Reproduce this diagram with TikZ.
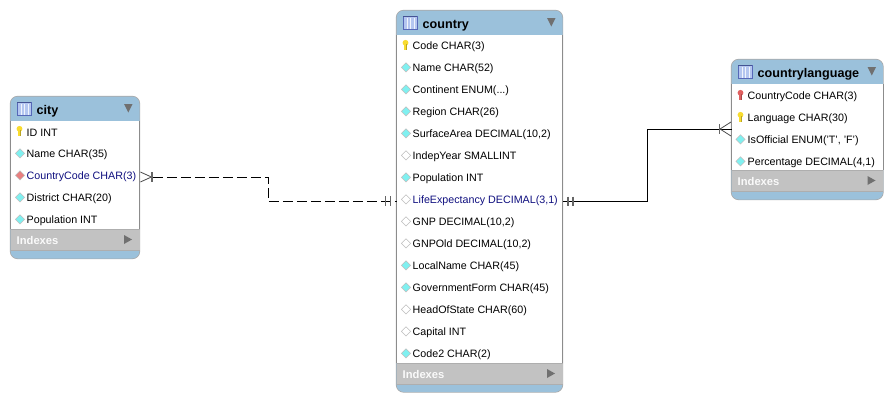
\documentclass[tikz,border=0pt]{standalone}
\usepackage{fontspec}
\setmainfont{Liberation Sans}
\usetikzlibrary{calc}
\definecolor{hdr}{HTML}{9BC1DB}
\definecolor{band}{HTML}{C2C2C2}
\definecolor{edge}{HTML}{8C8C8C}
\definecolor{tri}{HTML}{707070}
\definecolor{cy}{HTML}{80F0F0}
\definecolor{fkr}{HTML}{E88080}
\definecolor{keyy}{HTML}{F8DC30}
\definecolor{keyr}{HTML}{E06060}
\definecolor{ink}{HTML}{000000}
\definecolor{hil}{HTML}{101080}
\definecolor{iconf}{HTML}{B4C6F0}
\definecolor{iconb}{HTML}{5668B8}
\tikzset{
  tablebody/.style={fill=white,inner sep=0pt},
  rowtext/.style={anchor=west,inner sep=0pt,font=\fontsize{10.7}{12}\selectfont,text=ink},
  hitext/.style={rowtext,text=hil},
  titletext/.style={anchor=west,inner sep=0pt,font=\fontsize{12.6}{13}\selectfont\bfseries,text=black},
  indextext/.style={anchor=west,inner sep=0pt,font=\fontsize{11.2}{12}\selectfont\bfseries,text=white!92!band},
  relsolid/.style={draw=black,line width=0.9pt},
  reldash/.style={draw=black,line width=0.9pt,dash pattern=on 10pt off 4pt},
  crow/.style={draw=black!70,line width=0.8pt},
  crowbar/.style={draw=black!60,line width=1.6pt},
}
% #1 left, #2 right, #3 top, #4 header bottom, #5 band top, #6 band bottom, #7 bottom, #8 title, #9 name
\newcommand{\ertable}[9]{%
  \fill[edge!75,rounded corners=8pt] (#1-0.7,#3-0.7) rectangle (#2+0.7,#7+0.7);
  \fill[hdr,rounded corners=7.5pt] (#1,#3) rectangle (#2,#7);
  \node[tablebody,minimum width=#2pt-#1pt,minimum height=#5pt-#4pt,anchor=north west] (#9) at (#1,#4) {};
  \draw[edge,line width=1pt] (#1,#4) -- (#1,#5) (#2,#4) -- (#2,#5);
  \fill[band] (#1,#5) rectangle (#2,#6);
  \draw[edge!70,line width=.8pt] (#1,#5) -- (#2,#5) (#1,#6) -- (#2,#6);
  % table icon
  \fill[iconf] (#1+6.5,#3+5.5) rectangle (#1+20.5,#3+18.5);
  \foreach \gx in {10.5,14,17.5}{\draw[white!80!iconf,line width=.8pt] (#1+\gx,#3+7) -- (#1+\gx,#3+18);}
  \draw[iconb,line width=1pt] (#1+6.5,#3+5.5) rectangle (#1+20.5,#3+18.5);
  \draw[iconb!80!black,line width=1.4pt] (#1+6.5,#3+6) -- (#1+20.5,#3+6);
  \node[titletext] (#9title) at (#1+26,#3+15) {#8};
  \fill[tri] (#2-15.5,#3+7.5) -- (#2-7,#3+7.5) -- (#2-11.2,#3+16) -- cycle;
  \node[indextext] (#9idx) at (#1+6,{(#5+#6)/2+.5}) {Indexes};
  \fill[tri] (#2-15.5,{(#5+#6)/2-4.5}) -- (#2-7.5,{(#5+#6)/2}) -- (#2-15.5,{(#5+#6)/2+4.5}) -- cycle;
}
% #1 x of icon centre, #2 y, #3 fill
\newcommand{\pdiamond}[3]{%
  \fill[gray!50] (#1,#2-4.6) -- (#1+5,#2+.4) -- (#1,#2+5.4) -- (#1-5,#2+.4) -- cycle;
  \fill[#3] (#1,#2-3.6) -- (#1+3.9,#2+.4) -- (#1,#2+4.3) -- (#1-3.9,#2+.4) -- cycle;
}
\newcommand{\pkey}[3]{%
  \fill[#3] (#1,#2-2.2) circle[radius=2.9];
  \fill[#3] (#1-1.2,#2-2) rectangle (#1+1,#2+4.6);
  \draw[#3!75!black,line width=.4pt] (#1+1.1,#2-1) -- (#1+1.1,#2+4.6);
}
\begin{document}
\begin{tikzpicture}[x=1pt,y=-1pt]
\useasboundingbox (0,0) rectangle (892,402);
\fill[white] (0,0) rectangle (892,402);
% ---- city
\ertable{10.5}{139.5}{96.5}{120.5}{229}{250}{258.5}{city}{city}
\pkey{19.5}{131}{keyy}
\node[rowtext] (cityA) at (26.5,133) {ID INT};
\pdiamond{20}{153}{cy}
\node[rowtext] (cityB) at (26.5,155) {Name CHAR(35)};
\pdiamond{20}{175}{fkr}
\node[hitext] (cityC) at (26.5,177) {CountryCode CHAR(3)};
\pdiamond{20}{197}{cy}
\node[rowtext] (cityD) at (26.5,199) {District CHAR(20)};
\pdiamond{20}{219}{cy}
\node[rowtext] (cityE) at (26.5,221) {Population INT};
% ---- country
\ertable{396.5}{562.5}{10.5}{35}{363}{384}{392}{country}{country}
\pkey{405.5}{45}{keyy}
\node[rowtext] (c1) at (412.5,47) {Code CHAR(3)};
\foreach \yy/\nm/\tx/\col in {
  67/c2/{Name CHAR(52)}/cy,
  89/c3/{Continent ENUM(...)}/cy,
  111/c4/{Region CHAR(26)}/cy,
  133/c5/{SurfaceArea DECIMAL(10,2)}/cy,
  155/c6/{IndepYear SMALLINT}/white,
  177/c7/{Population INT}/cy,
  221/c9/{GNP DECIMAL(10,2)}/white,
  243/c10/{GNPOld DECIMAL(10,2)}/white,
  265/c11/{LocalName CHAR(45)}/cy,
  287/c12/{GovernmentForm CHAR(45)}/cy,
  309/c13/{HeadOfState CHAR(60)}/white,
  331/c14/{Capital INT}/white,
  353/c15/{Code2 CHAR(2)}/cy}{
  \pdiamond{406}{\yy}{\col}
  \node[rowtext] (\nm) at (412.5,\yy+2) {\tx};
}
\pdiamond{406}{199}{white}
\node[hitext] (c8) at (412.5,201) {LifeExpectancy DECIMAL(3,1)};
% ---- countrylanguage
\ertable{731.5}{883}{59.5}{84}{170}{191}{199.5}{countrylanguage}{lang}
\pkey{740.5}{95}{keyr}
\node[rowtext] (l1) at (747.5,97) {CountryCode CHAR(3)};
\pkey{740.5}{117}{keyy}
\node[rowtext] (l2) at (747.5,119) {Language CHAR(30)};
\pdiamond{740.5}{139}{cy}
\node[rowtext] (l3) at (747.5,141) {IsOfficial ENUM('T', 'F')};
\pdiamond{740.5}{161}{cy}
\node[rowtext] (l4) at (747.5,163) {Percentage DECIMAL(4,1)};
% ---- connectors
\coordinate (dashA) at (city.east |- 0,177);
\coordinate (dashB) at (country.west |- 0,201);
\coordinate (solA) at (country.east |- 0,201);
\coordinate (solB) at (lang.west |- 0,129);
\draw[reldash] (dashA) ++(13,0) -- (268,177) -- (268,201) -- (dashB);
\draw[relsolid] (solA) -- (647,201) -- (647,129) -- (solB);
% crow's feet and bars
\draw[crow] (dashA) ++(0.5,-5) -- ++(11,5) -- ++(-11,5);
\draw[crowbar] (dashA) ++(12,-5) -- ++(0,10);
\draw[crowbar] (dashB) ++(-11,-5) -- ++(0,10);
\draw[crowbar] (dashB) ++(-6,-5) -- ++(0,10);
\draw[crowbar] (solA) ++(5,-4.5) -- ++(0,9);
\draw[crowbar] (solA) ++(10,-4.5) -- ++(0,9);
\draw[crow] (solB) ++(-0.5,-7) -- ++(-11,7) -- ++(11,7);
\draw[crowbar] (solB) ++(-12,-5) -- ++(0,10);
\end{tikzpicture}
\end{document}
